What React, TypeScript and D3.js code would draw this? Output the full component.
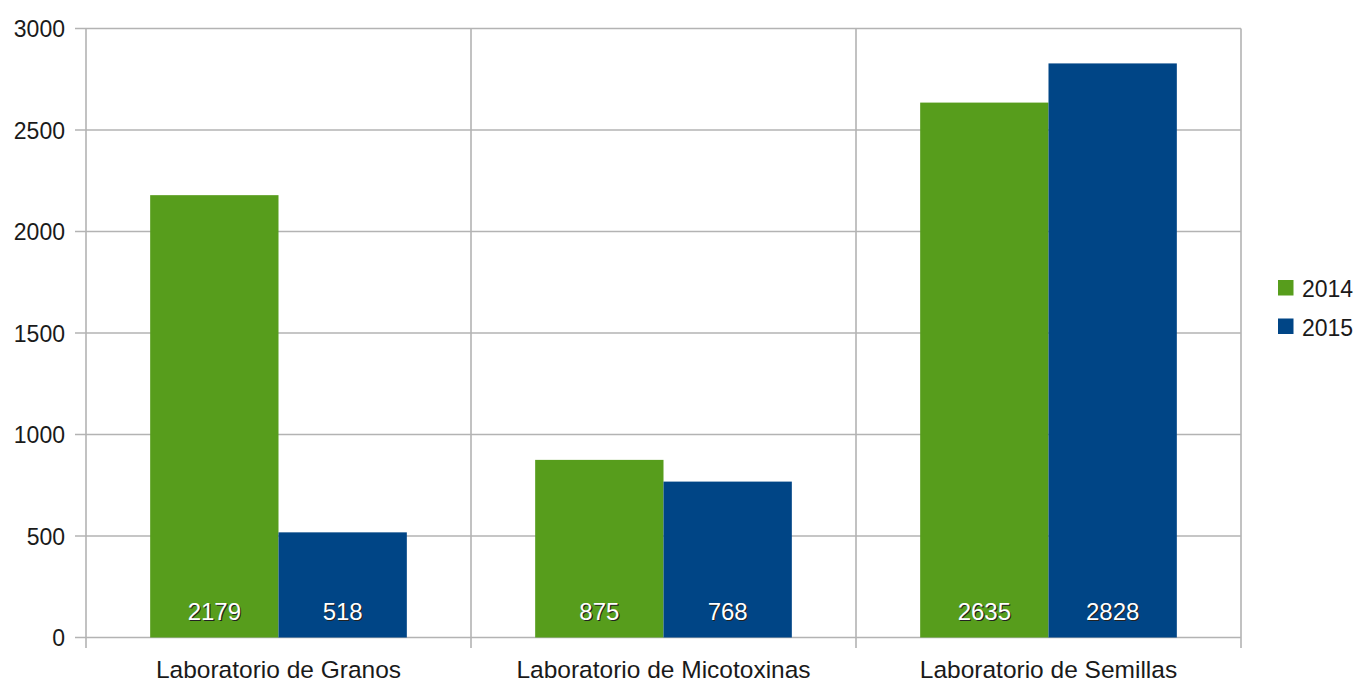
import React from "react";
import * as d3 from "d3";

const categories = ["Laboratorio de Granos", "Laboratorio de Micotoxinas", "Laboratorio de Semillas"];
const years = ["2014", "2015"];
const values2014 = [2179, 875, 2635];
const values2015 = [518, 768, 2828];
const yTicks = [0, 500, 1000, 1500, 2000, 2500, 3000];
const colors = ["#579D1C", "#004586"];

const W = 1360;
const H = 684;
const left = 86;
const right = 1241;
const top = 28.5;
const bottom = 637.5;
const font = "'Liberation Sans', Arial, sans-serif";
const gridColor = "#b3b3b3";

export default function App() {
  const series = [values2014, values2015];
  const x = d3.scaleBand<string>().domain(categories).range([left, right]).paddingInner(0).paddingOuter(0);
  const xi = d3.scaleBand<string>().domain(years).range([0, x.bandwidth()]).paddingInner(0).paddingOuter(0.5);
  const y = d3.scaleLinear().domain([0, 3000]).range([bottom, top]);
  const boundaries = [left, ...categories.map((c) => (x(c) as number) + x.bandwidth())];

  return (
    <svg width={W} height={H} style={{ position: "absolute", left: 0, top: 0, background: "#fff" }}>
      {yTicks.map((t) => (
        <g key={t}>
          <line x1={75} x2={right} y1={y(t)} y2={y(t)} stroke={gridColor} strokeWidth={1.6} />
          <text x={65} y={y(t) + 8.5} textAnchor="end" fontFamily={font} fontSize={23} fill="#1a1a1a">
            {t}
          </text>
        </g>
      ))}
      {boundaries.map((bx, i) => (
        <line key={i} x1={bx} x2={bx} y1={top} y2={648} stroke={gridColor} strokeWidth={1.6} />
      ))}
      {categories.map((c, ci) => (
        <g key={c}>
          {years.map((yr, si) => {
            const v = series[si][ci];
            const bx = (x(c) as number) + (xi(yr) as number);
            const bw = xi.bandwidth();
            return (
              <g key={yr}>
                <rect x={bx} y={y(v)} width={bw} height={y(0) - y(v)} fill={colors[si]} />
                <text x={bx + bw / 2 + 1.2} y={621.2} textAnchor="middle" fontFamily={font} fontSize={24} fill="#222">
                  {v}
                </text>
                <text x={bx + bw / 2} y={620} textAnchor="middle" fontFamily={font} fontSize={24} fill="#fff">
                  {v}
                </text>
              </g>
            );
          })}
          <text x={(x(c) as number) + x.bandwidth() / 2} y={678} textAnchor="middle" fontFamily={font} fontSize={24.5} fill="#1a1a1a">
            {c}
          </text>
        </g>
      ))}
      {years.map((yr, i) => (
        <g key={yr}>
          <rect x={1278} y={280 + i * 38.5} width={15.5} height={15.5} fill={colors[i]} />
          <text x={1302} y={297 + i * 38.5} fontFamily={font} fontSize={23} fill="#1a1a1a">
            {yr}
          </text>
        </g>
      ))}
    </svg>
  );
}
